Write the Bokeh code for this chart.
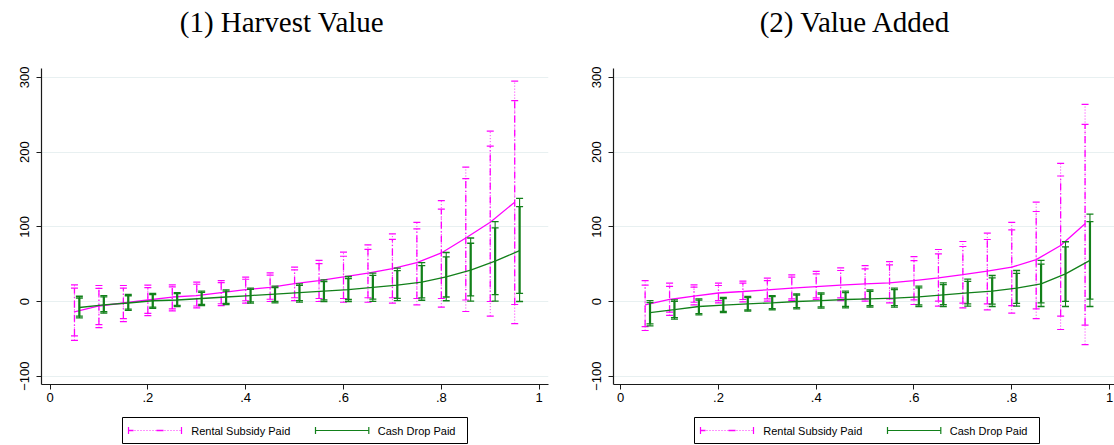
from bokeh.plotting import figure
from bokeh.models import ColumnDataSource, Range1d, FixedTicker
from bokeh.layouts import row, column
from bokeh.embed import file_html
from bokeh.resources import INLINE
from bokeh.core.properties import value

# ---------------- data ----------------
quantiles = [0.05, 0.10, 0.15, 0.20, 0.25, 0.30, 0.35, 0.40, 0.45, 0.50,
             0.55, 0.60, 0.65, 0.70, 0.75, 0.80, 0.85, 0.90, 0.95]
cash_dodge = 0.01  # Cash Drop estimates are drawn slightly to the right

x_ticks = [0, 0.2, 0.4, 0.6, 0.8, 1]
x_tick_labels = ["0", ".2", ".4", ".6", ".8", "1"]
y_ticks = [-100, 0, 100, 200, 300]

titles = ["(1) Harvest Value", "(2) Value Added"]
series_names = ["Rental Subsidy Paid", "Cash Drop Paid"]

# Panel 1: Harvest Value
hv_rent_est = [-14, -6, -2, 2, 6, 8, 12, 16, 19, 24, 28, 33, 38, 44, 52, 65, 85, 106, 133]
hv_rent_hi95 = [22.3, 21.4, 21.4, 21.9, 22.3, 25.9, 28, 32.6, 38.4, 46, 55, 66, 75.9, 90.6, 106, 135, 180, 228, 295]
hv_rent_lo95 = [-52, -35, -27, -19, -12.5, -8.5, -5.4, -2.2, 0, 1.3, 0, -1, -1, -2.2, -4.5, -7.6, -13.4, -19.6, -29.6]
hv_rent_hi90 = [17.8, 17.5, 17.8, 18.7, 19.5, 23.1, 25.3, 29.8, 35.3, 42.4, 50.6, 60.6, 69.8, 83.2, 97.2, 123.6, 164.5, 208, 269]
hv_rent_lo90 = [-46, -31, -23, -16, -10, -6, -3, 1, 3, 5, 4, 4, 5, 5, 4, 4, 2, 0, -4]

hv_cash_est = [-8, -4.5, -2, 1, 2, 4, 6, 8, 10, 12, 14, 16, 19, 22, 26, 33, 42, 54, 68]
hv_cash_hi95 = [7, 8, 9.4, 10.7, 12, 13.8, 15.6, 17.8, 20.5, 23.7, 29, 33.5, 38, 44.6, 52, 65.6, 85, 107, 138]
hv_cash_lo95 = [-22, -15.6, -12, -9, -6.7, -5.4, -4, -2.2, -1.8, -0.9, 0, 0, 0.3, 1.3, 1.7, 1, 0.5, 0.5, 0]
hv_cash_hi90 = [4.7, 6.1, 7.7, 9.2, 10.5, 12.3, 14, 16.2, 18.7, 21.7, 26.7, 30.8, 35, 41.3, 48, 59.7, 78, 98.5, 127]
hv_cash_lo90 = [-19.7, -13.7, -10.3, -7.4, -5.2, -3.9, -2.4, -0.6, 0, 1.1, 2.3, 2.7, 3.3, 4.2, 4.8, 6, 7.5, 9.2, 11]

# Panel 2: Value Added
va_rent_est = [-4.5, 2.7, 7.1, 11.4, 13.4, 15.6, 17.8, 20, 21.9, 23.6, 25, 28, 31.7, 36, 40.6, 46, 56, 75, 104]
va_rent_hi95 = [28, 24.6, 22.3, 24.6, 27.2, 31.2, 35.7, 40.2, 45, 48, 53.5, 60, 69.6, 80.3, 91.5, 106, 133, 185, 264]
va_rent_lo95 = [-38.8, -18.7, -4.5, -1.8, -0.4, 0.4, 1.3, 2.7, 1.3, 0.4, -1.8, -4, -6.2, -8.5, -11.2, -15.6, -23, -37.5, -57.6]
va_rent_hi90 = [22, 20.2, 19.2, 21.4, 24.6, 28, 32.6, 37, 41.5, 43.7, 49, 54.6, 63.7, 73.6, 83, 96, 120.5, 168, 237]
va_rent_lo90 = [-33.5, -14.3, -1, 1.3, 2.7, 3.6, 3.6, 4.9, 4.9, 3.6, 3.6, 2.2, 0.4, -2.2, -3.1, -5.4, -9.8, -19.6, -31.6]

va_cash_est = [-15, -11, -6.7, -4.9, -3.1, -1.8, 0, 1.3, 2.7, 3.6, 4.5, 6.2, 8.9, 11.6, 13.8, 17.8, 23.6, 37, 55]
va_cash_hi95 = [1.3, 2.2, 3.6, 5.4, 6.7, 8, 10.3, 11.6, 13.8, 15.6, 17.8, 20.5, 25, 29.9, 34.8, 41.5, 55, 80, 117]
va_cash_lo95 = [-32.6, -23.6, -17.8, -14.7, -13, -11.2, -9.8, -8.9, -8.5, -7.6, -7.6, -6.7, -6.7, -6.2, -6.7, -6.2, -6.7, -6.7, -6.7]
va_cash_hi90 = [-1.4, 0.1, 1.9, 3.8, 5.1, 6.5, 8.7, 10, 12, 13.7, 15.8, 18.3, 22.5, 27, 31.5, 37.7, 50, 73, 107]
va_cash_lo90 = [-29.9, -21.5, -16.1, -13.1, -11.4, -9.7, -8.2, -7.3, -6.7, -5.7, -5.6, -4.5, -4.2, -3.3, -3.4, -2.4, -1.8, 0.2, 3.2]

# ---------------- style ----------------
MAGENTA = "#ff00ff"
GREEN = "#12801a"
GRID = "#e8f0f1"
AXIS = "#1a1a1a"
SANS = "Liberation Sans"
SERIF = "Liberation Serif"

H_TITLE = 40
H_MAIN = 372
H_LEG = 33
MB_TOP = 28       # frame top at 68 px
MB_BOTTOM = 28    # frame bottom at 384 px

RENT_OUT = dict(line_color=MAGENTA, line_width=1, line_dash="1 2", line_alpha=0.85)
RENT_IN = dict(line_color=MAGENTA, line_width=1.3, line_dash="7 3 1 3")
CASH_OUT = dict(line_color=GREEN, line_width=1.1)
CASH_IN = dict(line_color=GREEN, line_width=2.2)


def blank(width, height, mbl, mbr):
    # pixel-unit helper canvas (x: canvas px, y: px from bottom)
    q = figure(width=width, height=height, output_backend="svg", toolbar_location=None,
               title=None, x_range=Range1d(mbl, width - mbr), y_range=Range1d(0, height),
               x_axis_location=None, y_axis_location=None,
               min_border_left=mbl, min_border_right=mbr, min_border_top=0, min_border_bottom=0)
    q.outline_line_color = None
    q.xgrid.visible = False
    q.ygrid.visible = False
    q.border_fill_color = "white"
    q.background_fill_color = "white"
    return q


def make_title(width, mbl, mbr, text, cx):
    t = blank(width, H_TITLE, mbl, mbr)
    t.text(x=[cx], y=[H_TITLE - 21], text=[text], text_align="center",
           text_baseline="middle", text_font=value(SERIF),
           text_font_size="29px", text_color="black")
    return t


def make_legend(width, mbl, mbr, x0):
    q = blank(width, H_LEG, mbl, mbr)
    yc = 15
    q.quad(left=[x0], right=[x0 + 345], bottom=[2], top=[28],
           fill_color="white", line_color="black", line_width=1)
    # rental glyph: dotted line with a dash, capped
    g0, g1 = x0 + 6, x0 + 59
    q.segment(x0=[g0], y0=[yc], x1=[g1], y1=[yc], **RENT_OUT)
    q.segment(x0=[g0, g0 + 28], y0=[yc, yc], x1=[g0 + 5, g0 + 35], y1=[yc, yc],
              line_color=MAGENTA, line_width=1.3)
    q.segment(x0=[g0, g1], y0=[yc - 3.5, yc - 3.5], x1=[g0, g1], y1=[yc + 3.5, yc + 3.5],
              line_color=MAGENTA, line_width=1.2)
    q.text(x=[x0 + 68.7], y=[yc], text=[series_names[0]], text_baseline="middle",
           text_font=value(SANS), text_font_size="11px", text_color="black")
    # cash glyph: solid capped line
    h0, h1 = x0 + 193, x0 + 246.3
    q.segment(x0=[h0], y0=[yc], x1=[h1], y1=[yc], **CASH_OUT)
    q.segment(x0=[h0, h1], y0=[yc - 3.5, yc - 3.5], x1=[h0, h1], y1=[yc + 3.5, yc + 3.5],
              line_color=GREEN, line_width=1.2)
    q.text(x=[x0 + 255.3], y=[yc], text=[series_names[1]], text_baseline="middle",
           text_font=value(SANS), text_font_size="11px", text_color="black")
    return q


def make_panel(rent, cash, width, mbl, mbr, x_start, x_end):
    p = figure(width=width, height=H_MAIN, output_backend="svg", toolbar_location=None,
               title=None, x_range=Range1d(x_start, x_end), y_range=Range1d(-111.1, 311.9),
               min_border_left=mbl, min_border_right=mbr, min_border_top=MB_TOP,
               min_border_bottom=MB_BOTTOM)
    p.outline_line_color = None
    p.background_fill_color = "white"
    p.border_fill_color = "white"

    p.xgrid.grid_line_color = None
    p.ygrid.ticker = FixedTicker(ticks=y_ticks)
    p.ygrid.grid_line_color = GRID
    p.ygrid.grid_line_width = 1.2

    p.xaxis.ticker = FixedTicker(ticks=x_ticks)
    p.xaxis.major_label_overrides = {t: l for t, l in zip(x_ticks, x_tick_labels)}
    p.yaxis.ticker = FixedTicker(ticks=y_ticks)
    for ax in (p.xaxis, p.yaxis):
        ax.axis_line_color = AXIS
        ax.axis_line_width = 1.2
        ax.major_tick_line_color = AXIS
        ax.major_tick_out = 5
        ax.major_tick_in = 0
        ax.minor_tick_line_color = None
        ax.major_label_text_font = SANS
        ax.major_label_text_font_size = "13px"
        ax.major_label_text_color = "black"
    p.xaxis.major_label_standoff = 3
    p.yaxis.major_label_standoff = 7
    p.yaxis.major_label_orientation = "vertical"

    xr = quantiles
    xc = [q + cash_dodge for q in quantiles]
    r_est, r_hi95, r_lo95, r_hi90, r_lo90 = rent
    c_est, c_hi95, c_lo95, c_hi90, c_lo90 = cash

    rs = ColumnDataSource(dict(x=xr, est=r_est, hi95=r_hi95, lo95=r_lo95, hi90=r_hi90, lo90=r_lo90))
    cs = ColumnDataSource(dict(x=xc, est=c_est, hi95=c_hi95, lo95=c_lo95, hi90=c_hi90, lo90=c_lo90))

    # Rental subsidy: outer (dotted) and inner (dash-dot) intervals
    p.segment(x0="x", y0="lo95", x1="x", y1="hi95", source=rs, **RENT_OUT)
    p.segment(x0="x", y0="lo90", x1="x", y1="hi90", source=rs, **RENT_IN)
    for col in ("hi95", "lo95", "hi90", "lo90"):
        p.scatter(x="x", y=col, source=rs, marker="dash", size=7,
                  line_color=MAGENTA, line_width=1.2)
    p.line(x="x", y="est", source=rs, line_color=MAGENTA, line_width=1.3)

    # Cash drop: outer thin, inner thick
    p.segment(x0="x", y0="lo95", x1="x", y1="hi95", source=cs, **CASH_OUT)
    p.segment(x0="x", y0="lo90", x1="x", y1="hi90", source=cs, **CASH_IN)
    for col in ("hi95", "lo95", "hi90", "lo90"):
        p.scatter(x="x", y=col, source=cs, marker="dash", size=7,
                  line_color=GREEN, line_width=1.3)
    p.line(x="x", y="est", source=cs, line_color=GREEN, line_width=1.3)
    return p


W1, MBL1, MBR1 = 578, 41, 30
W2, MBL2, MBR2 = 536, 35, 0

p1 = make_panel((hv_rent_est, hv_rent_hi95, hv_rent_lo95, hv_rent_hi90, hv_rent_lo90),
                (hv_cash_est, hv_cash_hi95, hv_cash_lo95, hv_cash_hi90, hv_cash_lo90),
                W1, MBL1, MBR1, -0.0174, 1.0191)
p2 = make_panel((va_rent_est, va_rent_hi95, va_rent_lo95, va_rent_hi90, va_rent_lo90),
                (va_cash_est, va_cash_hi95, va_cash_lo95, va_cash_hi90, va_cash_lo90),
                W2, MBL2, MBR2, -0.0147, 1.0102)
t1 = make_title(W1, MBL1, MBR1, titles[0], 281.5)
t2 = make_title(W2, MBL2, MBR2, titles[1], 277)
l1 = make_legend(W1, MBL1, MBR1, 122)
l2 = make_legend(W2, MBL2, MBR2, 116)

layout = row(column(t1, p1, l1), column(t2, p2, l2))
open("out.html", "w").write(file_html(layout, INLINE))
